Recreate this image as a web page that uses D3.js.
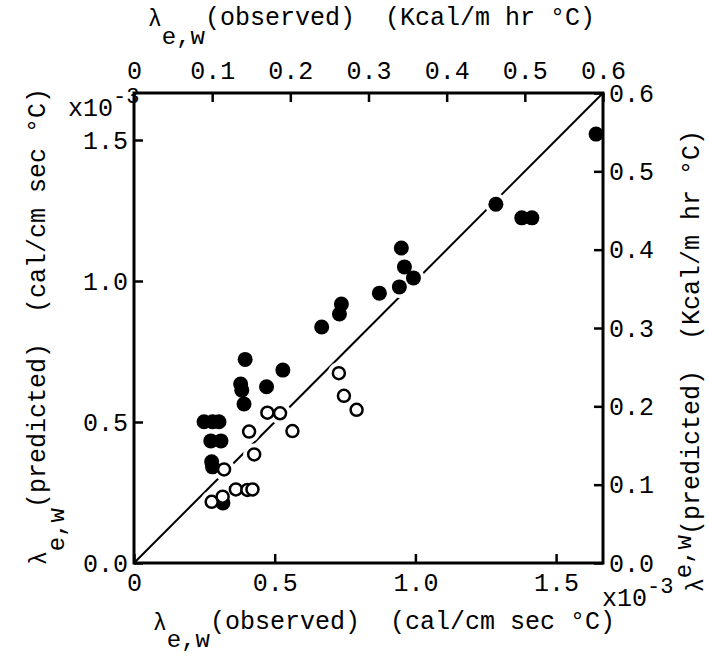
<!DOCTYPE html>
<html>
<head>
<meta charset="utf-8">
<style>
  body { margin: 0; padding: 0; background: #fff; }
  text { font-family: "Liberation Mono", "DejaVu Sans Mono", monospace; fill: #000; }
</style>
<script src="https://d3js.org/d3.v7.min.js"></script>
</head>
<body>
<svg width="709" height="659"></svg>
<script>
// values in units of 1e-3 cal/cm sec C  (observed, predicted)
const filledObs  = [1.642, 1.286, 1.378, 1.414, 0.950, 0.961, 0.993, 0.943, 0.872, 0.737, 0.730, 0.667,
                    0.529, 0.471, 0.395, 0.379, 0.383, 0.391, 0.249, 0.279, 0.302, 0.273, 0.309, 0.276, 0.279, 0.316];
const filledPred = [1.521, 1.272, 1.224, 1.224, 1.117, 1.050, 1.011, 0.979, 0.957, 0.918, 0.883, 0.837,
                    0.684, 0.625, 0.722, 0.635, 0.613, 0.564, 0.501, 0.501, 0.501, 0.433, 0.433, 0.359, 0.341, 0.213];
const openObs  = [0.728, 0.746, 0.791, 0.474, 0.519, 0.409, 0.563, 0.427, 0.320, 0.362, 0.403, 0.421, 0.276, 0.315];
const openPred = [0.673, 0.593, 0.543, 0.533, 0.531, 0.466, 0.468, 0.385, 0.332, 0.261, 0.259, 0.261, 0.217, 0.235];

const calTicks  = [0, 0.5, 1.0, 1.5];
const kcalTicks = [0, 0.1, 0.2, 0.3, 0.4, 0.5, 0.6];
const maxCal = 0.6 / 360 * 1000;   // 0.6 Kcal/m hr C expressed in 1e-3 cal/cm sec C

const svg = d3.select("svg");
const margin = { top: 93, left: 134 };
const w = 469, h = 470;
const g = svg.append("g").attr("transform", `translate(${margin.left},${margin.top})`);

const x = d3.scaleLinear().domain([0, maxCal]).range([0, w]);
const y = d3.scaleLinear().domain([0, maxCal]).range([h, 0]);
const xTop = d3.scaleLinear().domain([0, 0.6]).range([0, w]);
const yRight = d3.scaleLinear().domain([0, 0.6]).range([h, 0]);

// 1:1 line
g.append("line")
  .attr("x1", x(0)).attr("y1", y(0))
  .attr("x2", x(maxCal)).attr("y2", y(maxCal))
  .attr("stroke", "#000").attr("stroke-width", 2);

const filled = filledObs.map((v, i) => [v, filledPred[i]]);
const open = openObs.map((v, i) => [v, openPred[i]]);

// white gaps in the line around the points
g.selectAll("circle.halo").data(filled.concat(open)).enter().append("circle")
  .attr("class", "halo")
  .attr("cx", d => x(d[0])).attr("cy", d => y(d[1]))
  .attr("r", 11).attr("fill", "#fff");

g.selectAll("circle.filled").data(filled).enter().append("circle")
  .attr("class", "filled")
  .attr("cx", d => x(d[0])).attr("cy", d => y(d[1]))
  .attr("r", 7.5).attr("fill", "#000");

g.selectAll("circle.open").data(open).enter().append("circle")
  .attr("class", "open")
  .attr("cx", d => x(d[0])).attr("cy", d => y(d[1]))
  .attr("r", 6).attr("fill", "#fff").attr("stroke", "#000").attr("stroke-width", 2.5);

// axes, ticks inward
const fmt1 = d3.format(".1f");
const styleAxis = sel => {
  sel.select(".domain").remove();
  sel.selectAll(".tick line").attr("stroke", "#000").attr("stroke-width", 2.5);
  sel.selectAll(".tick text").style("font-size", "25px").style("font-family", "Liberation Mono");
};

g.append("g").attr("transform", `translate(0,${h})`)
  .call(d3.axisBottom(x).tickValues(calTicks).tickSizeInner(-9).tickSizeOuter(0).tickPadding(10)
        .tickFormat(d => d === 0 ? "0" : fmt1(d)))
  .call(styleAxis);

g.append("g")
  .call(d3.axisLeft(y).tickValues(calTicks).tickSizeInner(-9).tickSizeOuter(0).tickPadding(6)
        .tickFormat(fmt1))
  .call(styleAxis);

g.append("g")
  .call(d3.axisTop(xTop).tickValues(kcalTicks).tickSizeInner(-9).tickSizeOuter(0).tickPadding(14)
        .tickFormat(d => d === 0 ? "0" : fmt1(d)))
  .call(styleAxis);

g.append("g").attr("transform", `translate(${w},0)`)
  .call(d3.axisRight(yRight).tickValues(kcalTicks).tickSizeInner(-9).tickSizeOuter(0).tickPadding(6)
        .tickFormat(fmt1))
  .call(styleAxis);

// frame
g.append("rect").attr("width", w).attr("height", h)
  .attr("fill", "none").attr("stroke", "#000").attr("stroke-width", 3);

// x10^-3 markers
function expLabel(px, py) {
  const t = svg.append("text").attr("x", px).attr("y", py).style("font-size", "25px");
  t.append("tspan").text("x10");
  t.append("tspan").attr("dy", "-0.6em").style("font-size", "22px").text("-3");
}
expLabel(68, 116);
expLabel(602, 606);

// axis titles: lambda, subscript e,w, then the rest
function title(sel, unit, subDy, backDy) {
  sel.append("tspan").style("font-size", "23px").text("\u03bb");
  sel.append("tspan").attr("dy", subDy).style("font-size", "24px").text("e,w");
  sel.append("tspan").attr("dy", backDy).style("font-size", "25px").text(unit);
}

const tt = svg.append("text").attr("x", 148).attr("y", 26).attr("xml:space", "preserve");
title(tt, "(observed)  (Kcal/m hr \u00b0C)", "0.75em", "-0.75em");

const bt = svg.append("text").attr("x", 153).attr("y", 630).attr("xml:space", "preserve");
title(bt, "(observed)  (cal/cm sec \u00b0C)", "0.7em", "-0.7em");

const lt = svg.append("text").attr("transform", "translate(46,565) rotate(-90)").attr("xml:space", "preserve");
title(lt, "(predicted)  (cal/cm sec \u00b0C)", "0.75em", "-0.75em");

const rt = svg.append("text").attr("transform", "translate(703,592) rotate(-90)").attr("xml:space", "preserve");
title(rt, "(predicted)  (Kcal/m hr \u00b0C)", "-0.5em", "0.3em");
</script>
</body>
</html>
